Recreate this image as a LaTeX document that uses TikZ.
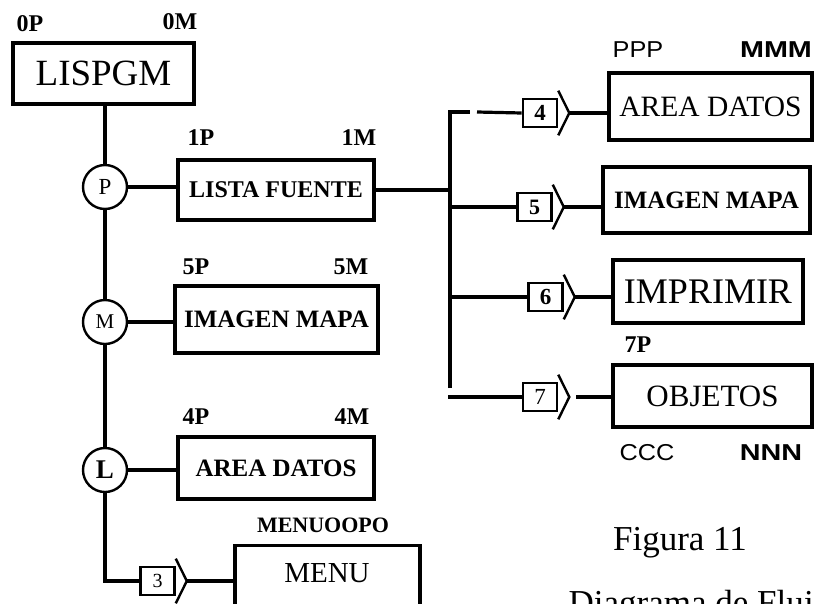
\documentclass[tikz,border=0pt]{standalone}
\usepackage{fontspec}
\setmainfont{Liberation Serif}
\newfontfamily\sansf{Liberation Sans}
\usetikzlibrary{calc}
\newcommand\fsz[1]{\fontsize{#1}{#1}\selectfont}
\newcommand\widen[1]{\scalebox{1.25}[1]{#1}}
\begin{document}
\begin{tikzpicture}[x=1pt,y=-1pt,line width=3.2pt,
  box/.style={draw,line width=3.2pt,inner sep=0pt},
  circ/.style={draw,circle,line width=2.4pt,minimum size=44pt,inner sep=0pt},
  tag/.style={draw,line width=2.6pt,inner sep=0pt,minimum width=34pt,minimum height=28pt},
  lab/.style={inner sep=0pt,font=\bfseries\fsz{24}},
  slab/.style={inner sep=0pt,font=\sansf\fsz{23}},
  sblab/.style={inner sep=0pt,font=\sansf\bfseries\fsz{23}}]
\useasboundingbox (0,0) rectangle (814,603);
\clip (0,0) rectangle (814,603);
% boxes
\node[box,minimum width=181pt,minimum height=61pt,font=\fsz{37}] (lisp) at (103.5,73.5) {LISPGM};
\node[box,minimum width=196pt,minimum height=60pt,font=\bfseries\fsz{24}] (lf) at (276,190) {LISTA FUENTE};
\node[box,minimum width=203pt,minimum height=67pt,font=\bfseries\fsz{25}] (imL) at (276.5,319.5) {IMAGEN MAPA};
\node[box,minimum width=196pt,minimum height=62pt,font=\bfseries\fsz{25}] (adL) at (276,468) {AREA DATOS};
\node[box,minimum width=185pt,minimum height=80pt,anchor=north] (menu) at (327.5,544) {};
\node[inner sep=0pt,font=\fsz{29}] (menut) at (327,573) {MENU};
\node[box,minimum width=203pt,minimum height=67pt,font=\fsz{29.5}] (adR) at (710.5,106.5) {AREA DATOS};
\node[box,minimum width=207pt,minimum height=66pt,font=\bfseries\fsz{25}] (imR) at (706.5,200) {IMAGEN MAPA};
\node[box,minimum width=190pt,minimum height=63pt,font=\fsz{36}] (impR) at (708,291.5) {IMPRIMIR};
\node[box,minimum width=199pt,minimum height=62pt,font=\fsz{31}] (obj) at (712.5,396) {OBJETOS};
% circles
\node[circ,font=\fsz{23}] (P) at (105,187) {P};
\node[circ,font=\fsz{21}] (M) at (105,322) {M};
\node[circ,font=\bfseries\fsz{27}] (L) at (105,470) {L};
% tags
\node[tag,font=\fsz{20}] (t3) at (157.5,581) {3};
\node[tag,font=\bfseries\fsz{23}] (t4) at (540,113) {4};
\node[tag,font=\bfseries\fsz{22}] (t5) at (534.5,207) {5};
\node[tag,font=\bfseries\fsz{23}] (t6) at (545.5,297) {6};
\node[tag,font=\fsz{23}] (t7) at (540,397) {7};
\foreach \t in {t3,t4,t5,t6,t7}{
  \coordinate (\t-tip) at ($(\t.east)+(11,0)$);
  \draw[line width=2.4pt] ($(\t.north east)+(0,-7)$) -- (\t-tip) -- ($(\t.south east)+(0,7)$);
}
% left connectors
\draw (lisp.south -| P) -- (P.north);
\draw (P.east) -- (P.east -| lf.west);
\draw (P.south) -- (M.north);
\draw (M.east) -- (M.east -| imL.west);
\draw (M.south) -- (L.north);
\draw (L.east) -- (L.east -| adL.west);
\draw (L.south) |- (t3.west);
\draw (t3-tip) -- (t3-tip -| menu.west);
% bus
\coordinate (bt) at (450,112);
\coordinate (bb) at (450,388);
\coordinate (g4a) at (470,112);
\coordinate (g4b) at (477,112);
\coordinate (b7) at (448,397);
\draw (lf.east) -- (lf.east -| bt);
\draw (bb) -- (bt) -- (g4a);
\draw (g4b) -- (t4.west);
\draw (t5.west -| bt) -- (t5.west);
\draw (t6.west -| bt) -- (t6.west);
\draw (b7) -- (t7.west);
\draw (t4-tip) -- (t4-tip -| adR.west);
\draw (t5-tip) -- (t5-tip -| imR.west);
\draw (t6-tip) -- (t6-tip -| impR.west);
\coordinate (o7) at ($(t7-tip)+(7,0)$);
\draw (o7) -- (o7 -| obj.west);
% labels
\node[lab] (l0P) at (30,24) {0P};
\node[lab] (l0M) at (180,22) {0M};
\node[lab] (l1P) at (201,138) {1P};
\node[lab] (l1M) at (359,138) {1M};
\node[lab] (l5P) at (196,267) {5P};
\node[lab] (l5M) at (351,267) {5M};
\node[lab] (l4P) at (196,417) {4P};
\node[lab] (l4M) at (352,417) {4M};
\node[inner sep=0pt,font=\bfseries\fsz{22}] (lmenu) at (323,525) {MENUOOPO};
\node[lab] (l7P) at (638,345) {7P};
\node[slab] (lPPP) at (638,50) {\scalebox{1.1}[1]{PPP}};
\node[sblab] (lMMM) at (776,50) {\widen{MMM}};
\node[slab] (lCCC) at (647,453) {\scalebox{1.1}[1]{CCC}};
\node[sblab] (lNNN) at (771,453) {\widen{NNN}};
\node[inner sep=0pt,font=\fsz{35}] (fig) at (680,543) {Figura 11};
\node[inner sep=0pt,anchor=north west,font=\fsz{35}] (diag) at (567,589) {Diagrama de Flujo};
\end{tikzpicture}
\end{document}
